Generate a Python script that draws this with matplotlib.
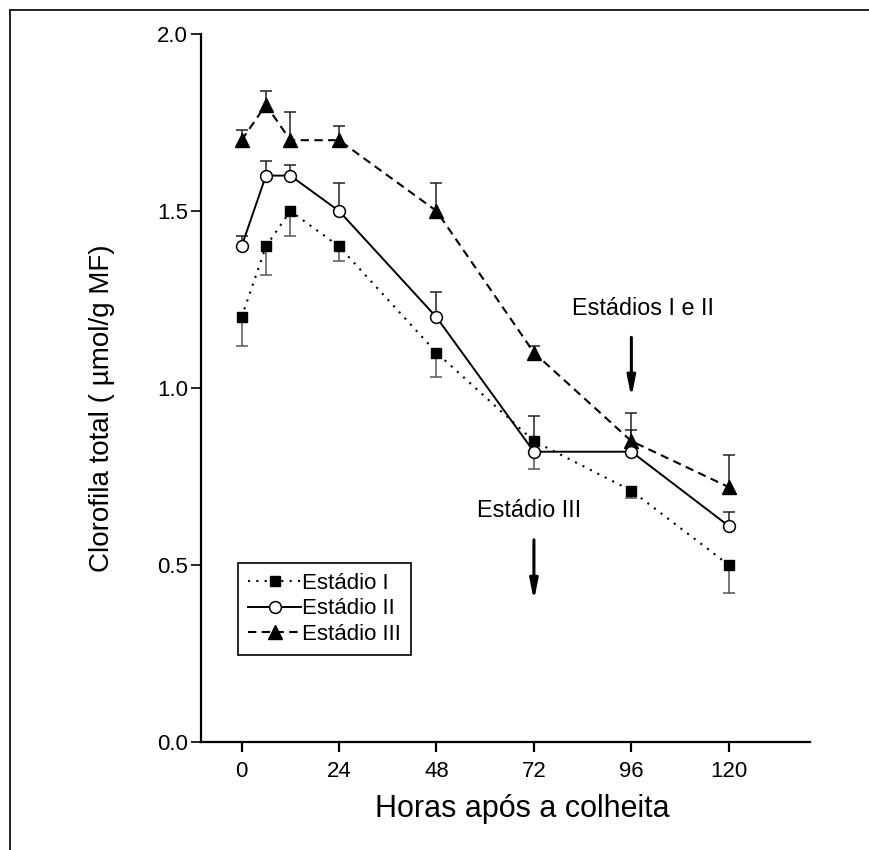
import matplotlib
matplotlib.use("Agg")
import matplotlib.pyplot as plt
from matplotlib.lines import Line2D

# ─── data ───
horas = [0, 6, 12, 24, 48, 72, 96, 120]

est1 = [1.20, 1.40, 1.50, 1.40, 1.10, 0.85, 0.71, 0.50]
est1_lo = [0.08, 0.08, 0.07, 0.04, 0.07, 0.08, 0.02, 0.08]
est1_hi = [0, 0, 0, 0, 0, 0, 0, 0]

est2 = [1.40, 1.60, 1.60, 1.50, 1.20, 0.82, 0.82, 0.61]
est2_lo = [0, 0, 0, 0, 0, 0, 0, 0]
est2_hi = [0.03, 0.04, 0.03, 0.08, 0.07, 0.10, 0.06, 0.04]

est3 = [1.70, 1.80, 1.70, 1.70, 1.50, 1.10, 0.85, 0.72]
est3_lo = [0, 0, 0, 0, 0, 0, 0, 0]
est3_hi = [0.03, 0.04, 0.08, 0.04, 0.08, 0.02, 0.08, 0.09]

xticks = [0, 24, 48, 72, 96, 120]
yticks = [0.0, 0.5, 1.0, 1.5, 2.0]

plt.rcParams["font.family"] = ["Liberation Sans", "DejaVu Sans"]

W, H = 869, 850
fig = plt.figure(figsize=(W / 100, H / 100), dpi=100)
ax = fig.add_axes([201 / W, 1 - 742 / H, 609 / W, 708 / H])

# ─── error bars (one-sided) ───
def ebar(y, lo, hi, color):
    _, caps, _ = ax.errorbar(horas, y, yerr=[lo, hi], fmt="none", ecolor=color,
                             elinewidth=1.1, capsize=4.5, capthick=1.1, zorder=2)
    if len(caps) == 2:
        if not any(lo):
            caps[0].set_visible(False)
        if not any(hi):
            caps[1].set_visible(False)

ebar(est1, est1_lo, est1_hi, "#555555")
ebar(est2, est2_lo, est2_hi, "#222222")
ebar(est3, est3_lo, est3_hi, "#222222")

# ─── series ───
ax.plot(horas, est1, linestyle=(0, (1, 3)), lw=1.5, color="black",
        marker="s", ms=7.5, mfc="black", mec="black", label="Estádio I", zorder=3)
ax.plot(horas, est2, linestyle="-", lw=1.4, color="black",
        marker="o", ms=8.5, mfc="white", mec="black", mew=1.1, label="Estádio II", zorder=4)
ax.plot(horas, est3, linestyle=(0, (4, 2.6)), lw=1.5, color="black",
        marker="^", ms=10.5, mfc="black", mec="black", label="Estádio III", zorder=3)

# ─── axes styling ───
ax.set_xlim(-10, 140)
ax.set_ylim(0, 2.0)
ax.set_xticks(xticks)
ax.set_yticks(yticks)
ax.set_yticklabels([f"{v:.1f}" for v in yticks])
for s in ["top", "right"]:
    ax.spines[s].set_visible(False)
for s in ["left", "bottom"]:
    ax.spines[s].set_linewidth(1.6)
ax.tick_params(axis="x", length=7.5, width=1.6, pad=6, labelsize=16)
ax.tick_params(axis="y", length=7.2, width=1.2, pad=2, labelsize=16)

ax.set_xlabel("Horas após a colheita", fontsize=22, va="baseline")
ax.xaxis.set_label_coords((522 - 201) / 609, (742 - 817) / 708)
ax.set_ylabel("Clorofila total ( µmol/g MF)", fontsize=20, va="baseline", ha="center")
ax.yaxis.set_label_coords((109 - 201) / 609, (742 - 408) / 708)

# ─── annotations ───
ax.text(98.9, 1.205, "Estádios I e II", fontsize=16.8, ha="center", va="baseline")
ax.annotate("", xy=(96, 0.973), xytext=(96, 1.143),
            arrowprops=dict(arrowstyle="-|>,head_length=0.6,head_width=0.12",
                            lw=2.2, color="black", mutation_scale=20,
                            shrinkA=0, shrinkB=0))
ax.text(70.8, 0.636, "Estádio III", fontsize=16.8, ha="center", va="baseline")
ax.annotate("", xy=(72, 0.399), xytext=(72, 0.571),
            arrowprops=dict(arrowstyle="-|>,head_length=0.6,head_width=0.12",
                            lw=2.2, color="black", mutation_scale=20,
                            shrinkA=0, shrinkB=0))

# ─── legend ───
leg = ax.legend(loc="upper left", bbox_to_anchor=((238 - 201) / 609, (742 - 563) / 708),
                borderaxespad=0, fontsize=16, frameon=True, fancybox=False,
                framealpha=1, edgecolor="black", handlelength=2.4,
                handletextpad=0.05, labelspacing=0.2, borderpad=0.45,
                numpoints=1)
leg.get_frame().set_linewidth(1.2)

# ─── figure border (left and top only) ───
fig.add_artist(Line2D([10 / W, 10 / W], [0, 1 - 10 / H], color="#222222", lw=1.4))
fig.add_artist(Line2D([10 / W, 1], [1 - 10 / H, 1 - 10 / H], color="#222222", lw=1.4))

fig.savefig("out.png", dpi=100)
